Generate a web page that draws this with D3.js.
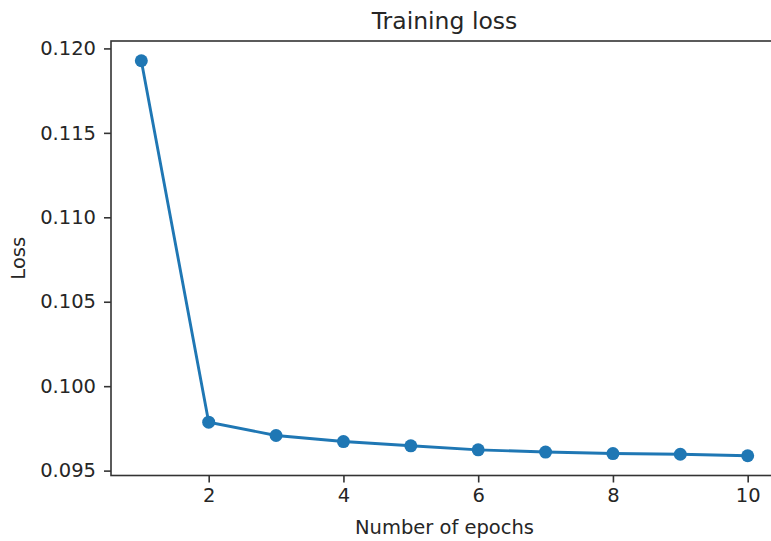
<!DOCTYPE html>
<meta charset="utf-8">
<style>
  body { margin: 0; background: #fff; }
  svg { display: block; }
  text { font-family: "DejaVu Sans", sans-serif; fill: #262626; }
  .axis path, .axis line { stroke: #333; }
  .axis text { font-size: 19.5px; fill: #262626; }
</style>
<body>
<svg width="771" height="541"></svg>
<script src="https://d3js.org/d3.v7.min.js"></script>
<script>

// values
var epochs = [1, 2, 3, 4, 5, 6, 7, 8, 9, 10];
var loss = [0.11927, 0.09787, 0.09708, 0.09672, 0.09647, 0.09623, 0.09610, 0.09601, 0.09597, 0.09588];
var xTicks = [2, 4, 6, 8, 10];
var yTicks = [0.095, 0.100, 0.105, 0.110, 0.115, 0.120];

var svg = d3.select('svg');
var axL = 111, axR = 778, axT = 41, axB = 475.5;

// matplotlib style 5% autoscale margins
var xExt = d3.extent(epochs), yExt = d3.extent(loss);
var xPad = (xExt[1] - xExt[0]) * 0.05, yPad = (yExt[1] - yExt[0]) * 0.05;

var x = d3.scaleLinear()
  .domain([xExt[0] - xPad, xExt[1] + xPad])
  .range([axL, axR]);
var y = d3.scaleLinear()
  .domain([yExt[0] - yPad, yExt[1] + yPad])
  .range([axB, axT]);

var data = epochs.map(function(e, i) { return {e: e, v: loss[i]}; });

svg.append('g')
  .attr('class', 'axis')
  .attr('transform', 'translate(0,' + axB + ')')
  .call(d3.axisBottom(x).tickValues(xTicks).tickSize(7).tickPadding(6).tickSizeOuter(0))
  .call(g => g.select('.domain').remove())
  .call(g => g.selectAll('line').attr('stroke-width', 1.6));

svg.append('g')
  .attr('class', 'axis')
  .attr('transform', 'translate(' + axL + ',0)')
  .call(d3.axisLeft(y).tickValues(yTicks).tickFormat(d3.format('.3f')).tickSize(7).tickPadding(8).tickSizeOuter(0))
  .call(g => g.select('.domain').remove())
  .call(g => g.selectAll('line').attr('stroke-width', 1.6));

// axes frame
svg.append('rect')
  .attr('x', axL).attr('y', axT)
  .attr('width', axR - axL).attr('height', axB - axT)
  .attr('fill', 'none')
  .attr('stroke', '#333')
  .attr('stroke-width', 1.6);

var line = d3.line()
  .x(d => x(d.e))
  .y(d => y(d.v));

svg.append('path')
  .datum(data)
  .attr('d', line)
  .attr('fill', 'none')
  .attr('stroke', '#1f77b4')
  .attr('stroke-width', 2.9);

svg.selectAll('circle.pt')
  .data(data)
  .enter().append('circle')
  .attr('class', 'pt')
  .attr('cx', d => x(d.e))
  .attr('cy', d => y(d.v))
  .attr('r', 6.5)
  .attr('fill', '#1f77b4');

svg.append('text')
  .attr('x', (axL + axR) / 2)
  .attr('y', 29)
  .attr('text-anchor', 'middle')
  .style('font-size', '23.5px')
  .text('Training loss');

svg.append('text')
  .attr('x', (axL + axR) / 2)
  .attr('y', 534)
  .attr('text-anchor', 'middle')
  .style('font-size', '19.5px')
  .text('Number of epochs');

svg.append('text')
  .attr('transform', 'translate(25,' + (axT + axB) / 2 + ') rotate(-90)')
  .attr('text-anchor', 'middle')
  .style('font-size', '19.5px')
  .text('Loss');

</script>
</body>
